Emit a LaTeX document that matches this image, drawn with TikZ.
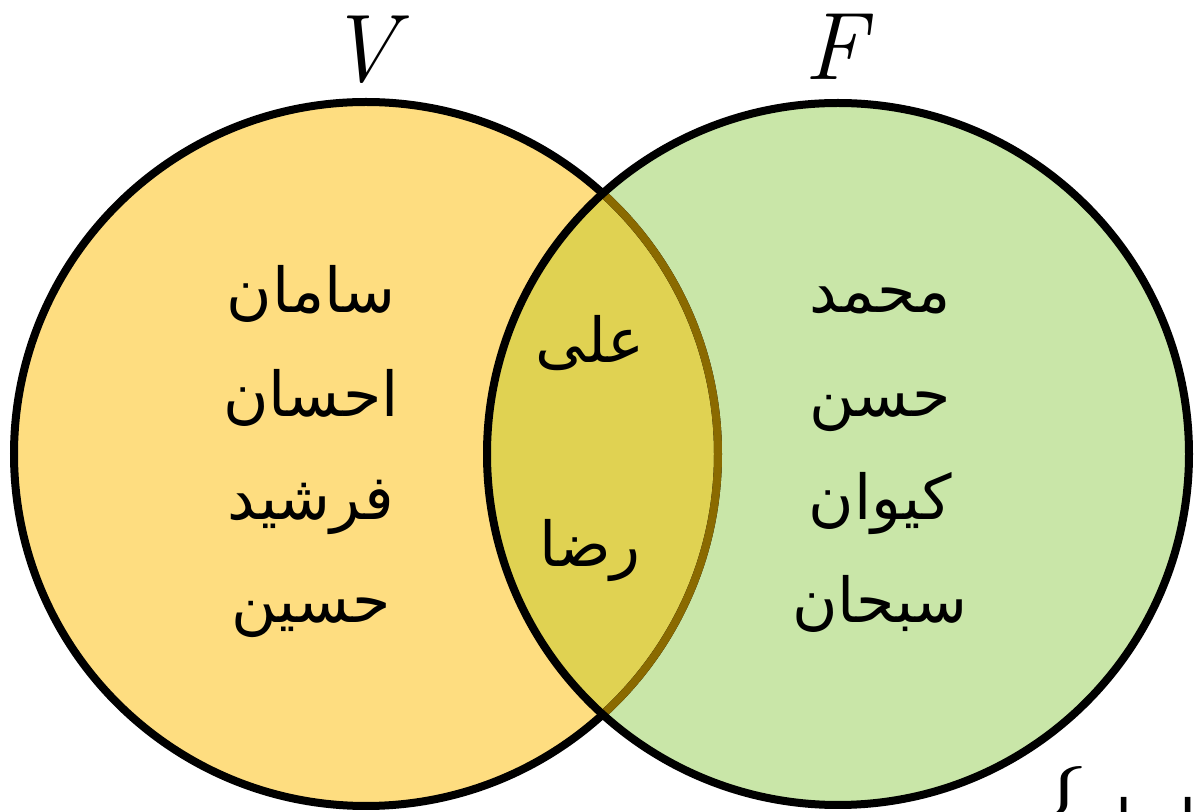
\documentclass[tikz,border=0pt]{standalone}
\usepackage{fontspec}
\newfontfamily\arabicfont[Script=Arabic]{DejaVu Sans}
\TeXXeTstate=1
\definecolor{vyellow}{HTML}{FEDD80}
\definecolor{fgreen}{HTML}{C9E6A8}
\definecolor{both}{HTML}{E0D252}
\definecolor{brownline}{HTML}{8A6A00}
\tikzset{
  pname/.style={font=\arabicfont\fontsize{31}{36}\selectfont, anchor=base, inner sep=0pt},
  setlabel/.style={font=\itshape\fontsize{48}{52}\selectfont, anchor=base, inner sep=0pt},
  ring/.style={line width=4pt},
}
\begin{document}
\begin{tikzpicture}[x=0.5pt,y=-0.5pt]
\useasboundingbox (0,0) rectangle (1196,812);
\coordinate (cv) at (366,454);
\coordinate (cf) at (838,454);
% fills
\fill[vyellow] (cv) circle (352);
\fill[fgreen] (cf) circle (351);
\begin{scope}
  \clip (cv) circle (352);
  \fill[both] (cf) circle (351);
\end{scope}
% strokes
\draw[ring] (cv) circle (352);
\begin{scope}
  \clip (cf) circle (351);
  \draw[ring, brownline] (cv) circle (352);
\end{scope}
\draw[ring] (cf) circle (351);
% set labels
\node[setlabel] (lv) at (362,82) {V};
\node[setlabel] (lf) at (835,80) {F};
% left names
\node[pname] (n1) at (311,313) {\beginR سامان\endR};
\node[pname] (n2) at (311,417) {\beginR احسان\endR};
\node[pname] (n3) at (311,520) {\beginR فرشید\endR};
\node[pname] (n4) at (311,623) {\beginR حسین\endR};
% middle names
\node[pname] (m1) at (590,363) {\beginR علی\endR};
\node[pname] (m2) at (590,567) {\beginR رضا\endR};
% right names
\node[pname] (r1) at (880,313) {\beginR محمد\endR};
\node[pname] (r2) at (880,417) {\beginR حسن\endR};
\node[pname] (r3) at (880,520) {\beginR کیوان\endR};
\node[pname] (r4) at (880,623) {\beginR سبحان\endR};
% cut-off fragment at bottom right
\node[font=\fontsize{50}{54}\selectfont, anchor=north, inner sep=0pt] (b1) at (1064,766) {\{};
\node[pname, anchor=north] (b2) at (1124,797) {\beginR ا\endR};
\node[pname, anchor=north] (b3) at (1188,797) {\beginR ا\endR};
\end{tikzpicture}
\end{document}
